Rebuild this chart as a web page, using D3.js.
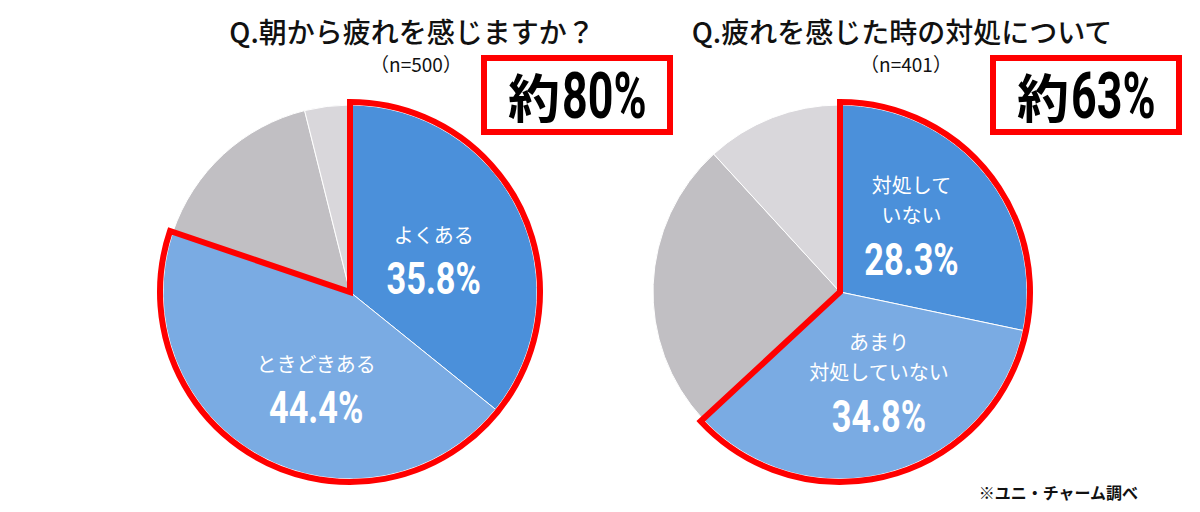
<!DOCTYPE html>
<html lang="ja">
<head>
<meta charset="UTF-8">
<title>疲れに関するアンケート</title>
<script src="https://cdn.jsdelivr.net/npm/d3@7"></script>
<style>
  body { margin: 0; background: #fff; }
  svg { display: block; }
  .jp { font-family: "Noto Sans CJK JP", "Noto Sans", sans-serif; }
  .num { font-family: "Roboto", "Liberation Sans", sans-serif; font-weight: bold; }
</style>
</head>
<body>
<div id="chart"></div>
<script>
// left pie: 朝から疲れを感じますか？ (n=500)
const leftCategories = ["よくある", "ときどきある", "あまりない", "まったくない"];
const leftValues = [35.8, 44.4, 15.9, 3.9];
const leftLabels = [["よくある"], ["ときどきある"], null, null];

// right pie: 疲れを感じた時の対処について (n=401)
const rightCategories = ["対処していない", "あまり対処していない", "ときどき対処している", "対処している"];
const rightValues = [28.3, 34.8, 25.1, 11.8];
const rightLabels = [["対処して", "いない"], ["あまり", "対処していない"], null, null];

const titles = ["Q.朝から疲れを感じますか？", "Q.疲れを感じた時の対処について"];
const sampleSizes = ["（n=500）", "（n=401）"];
const highlights = ["約80%", "約63%"];
const note = "※ユニ・チャーム調べ";

const colors = ["#4b90da", "#7aabe3", "#c1bfc3", "#d9d7db"];
const red = "#ff0000";

const width = 1200, height = 512;
const svg = d3.select("#chart").append("svg")
  .attr("width", width).attr("height", height);

const radius = 187;
// small nudges for the two label blocks (blue slices)
const nudge = [[-4, 6], [13, 8]];

function condensed(parent, x, y, size, sx, anchor, str) {
  parent.append("text").attr("class", "num")
    .attr("transform", `translate(${x},${y}) scale(${sx},1)`)
    .attr("text-anchor", anchor).attr("dominant-baseline", "central")
    .attr("font-size", size)
    .text(str);
}

function drawPie(cx, values, labels, title, nText, highlight, boxX) {
  const g = svg.append("g").attr("transform", `translate(${cx},292)`);
  const pie = d3.pie().sort(null).value(d => d);
  const arcs = pie(values);
  const arc = d3.arc().innerRadius(0).outerRadius(radius);

  g.selectAll("path.slice")
    .data(arcs)
    .enter().append("path")
    .attr("class", "slice")
    .attr("d", arc)
    .attr("fill", (d, i) => colors[i])
    .attr("stroke", "#fff")
    .attr("stroke-width", 1);

  // red outline around the two blue slices
  const endAngle = arcs[1].endAngle;
  g.append("path")
    .attr("d", d3.arc().innerRadius(0).outerRadius(radius + 3)({ startAngle: 0, endAngle: endAngle }))
    .attr("fill", "none")
    .attr("stroke", red)
    .attr("stroke-width", 6)
    .attr("stroke-linejoin", "miter");

  // slice labels
  const labelArc = d3.arc().innerRadius(radius * 0.52).outerRadius(radius * 0.52);
  arcs.forEach((a, i) => {
    if (!labels[i]) return;
    let [x, y] = labelArc.centroid(a);
    x += nudge[i][0]; y += nudge[i][1];
    const lines = labels[i];
    const top = y - 22 - (lines.length - 1) * 30;
    lines.forEach((t, j) => {
      g.append("text").attr("class", "jp")
        .attr("x", x).attr("y", top + j * 30)
        .attr("text-anchor", "middle").attr("dominant-baseline", "central")
        .attr("fill", "#fff").attr("font-size", 20)
        .text(t);
    });
    const pt = g.append("g").attr("fill", "#fff");
    condensed(pt, x, top + (lines.length - 1) * 30 + 45, 44, 0.78, "middle", values[i].toFixed(1) + "%");
  });

  // title & n
  svg.append("text").attr("class", "jp")
    .attr("x", cx + 62).attr("y", 31)
    .attr("text-anchor", "middle").attr("dominant-baseline", "central")
    .attr("font-size", 28).attr("font-weight", 500).attr("fill", "#111")
    .text(title);
  svg.append("text").attr("class", "jp")
    .attr("x", cx + 66).attr("y", 63)
    .attr("text-anchor", "middle").attr("dominant-baseline", "central")
    .attr("font-size", 19).attr("fill", "#111")
    .text(nText);

  // highlight box
  svg.append("rect")
    .attr("x", boxX).attr("y", 58).attr("width", 186).attr("height", 74)
    .attr("fill", "#fff").attr("stroke", red).attr("stroke-width", 6);
  svg.append("text").attr("class", "jp")
    .attr("x", boxX + 76).attr("y", 95)
    .attr("text-anchor", "end").attr("dominant-baseline", "central")
    .attr("font-weight", "bold").attr("font-size", 52).attr("fill", "#000")
    .text(highlight.slice(0, 1));
  const ht = svg.append("g").attr("fill", "#000");
  condensed(ht, boxX + 78, 96, 64, 0.7, "start", highlight.slice(1));
}

drawPie(350, leftValues, leftLabels, titles[0], sampleSizes[0], highlights[0], 484);
drawPie(840, rightValues, rightLabels, titles[1], sampleSizes[1], highlights[1], 993);

svg.append("text").attr("class", "jp")
  .attr("x", 1138).attr("y", 492)
  .attr("text-anchor", "end").attr("dominant-baseline", "central")
  .attr("font-size", 16).attr("font-weight", "bold").attr("fill", "#111")
  .text(note);
</script>
</body>
</html>
